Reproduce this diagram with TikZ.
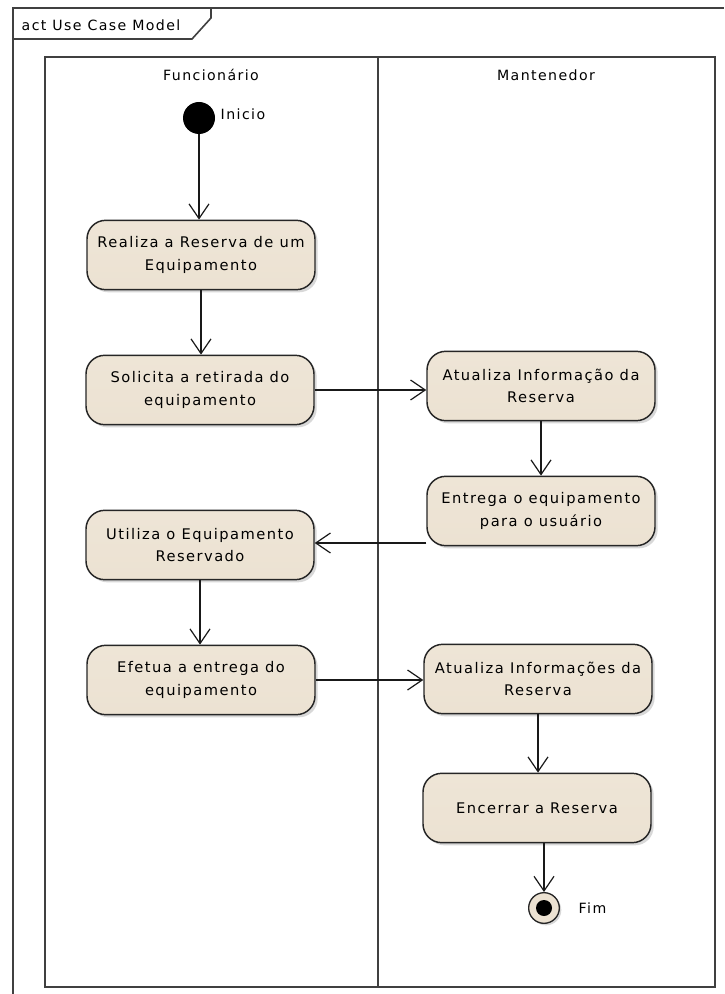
\documentclass[tikz,border=0pt]{standalone}
\usepackage{fontspec}
\setmainfont{DejaVu Sans}
\newfontfamily\umlfont[LetterSpace=10]{DejaVu Sans}
\usetikzlibrary{arrows.meta,shadows}
\begin{document}
\begin{tikzpicture}[x=0.75pt,y=-0.75pt,
  act/.style={draw=black!85, line width=1.1pt, rounded corners=14pt, minimum width=171pt, minimum height=52pt,
    align=center, font=\umlfont\fontsize{11}{17}\selectfont, top color=white!10!actfill, bottom color=actfill,
    drop shadow={shadow xshift=2pt, shadow yshift=-2pt, fill=black!30, opacity=0.5}},
  flow/.style={draw=black!90, line width=0.9pt, -{Straight Barb[length=11pt,width=15pt,line width=0.9pt]}},
  frameline/.style={draw=black!75, line width=1.2pt},
  lbl/.style={font=\umlfont\fontsize{10.6}{12}\selectfont}
]
\definecolor{actfill}{RGB}{236,226,210}
\useasboundingbox (0,0) rectangle (724,994);
\fill[white] (0,0) rectangle (724,994);
% outer frame
\draw[frameline] (13,994) -- (13,8) -- (724,8);
\draw[frameline] (13,39) -- (192,39) -- (211,18) -- (211,8);
\node[lbl, anchor=west] (title) at (17,25) {act Use Case Model};
% swimlanes
\draw[frameline] (45,57) rectangle (715,987);
\draw[frameline] (378,57) -- (378,987);
\node[lbl] (lane1) at (211,75) {Funcionário};
\node[lbl] (lane2) at (546,75) {Mantenedor};
% initial
\node[circle, fill=black, minimum size=24pt, inner sep=0pt] (init) at (199,118) {};
\node[lbl, anchor=west] (initl) at (216,114) {Inicio};
% activities
\node[act] (a1) at (201,255) {Realiza a Reserva de um\\Equipamento};
\node[act] (a2) at (200,390) {Solicita a retirada do\\equipamento};
\node[act] (b1) at (541,386) {Atualiza Informação da\\Reserva};
\node[act] (b2) at (541,511) {Entrega o equipamento\\para o usuário};
\node[act] (a3) at (200,545) {Utiliza o Equipamento\\Reservado};
\node[act] (a4) at (201,680) {Efetua a entrega do\\equipamento};
\node[act] (b3) at (538,679) {Atualiza Informações da\\Reserva};
\node[act] (b4) at (537,808) {Encerrar a Reserva};
% final
\node[circle, draw=black!85, line width=1pt, fill=actfill, minimum size=23pt, inner sep=0pt,
  drop shadow={shadow xshift=1.5pt, shadow yshift=-1.5pt, fill=black!30, opacity=0.5}] (fin) at (544,908) {};
\node[circle, fill=black, minimum size=12pt, inner sep=0pt] (finin) at (fin.center) {};
\node[lbl, anchor=west] (finl) at (574,908) {Fim};
% flows
\draw[flow] (init.south) -- (a1.north -| init.south);
\draw[flow] (a1.south) -- (a2.north -| a1.south);
\draw[flow] (a2.east) -- (b1.west |- a2.east);
\draw[flow] (b1.south) -- (b2.north -| b1.south);
\draw[flow] (b2.west |- 0,543) -- (a3.east |- 0,543);
\draw[flow] (a3.south) -- (a4.north -| a3.south);
\draw[flow] (a4.east) -- (b3.west |- a4.east);
\draw[flow] (b3.south) -- (b4.north -| b3.south);
\draw[flow] (b4.south -| fin.north) -- (fin.north);
\end{tikzpicture}
\end{document}
